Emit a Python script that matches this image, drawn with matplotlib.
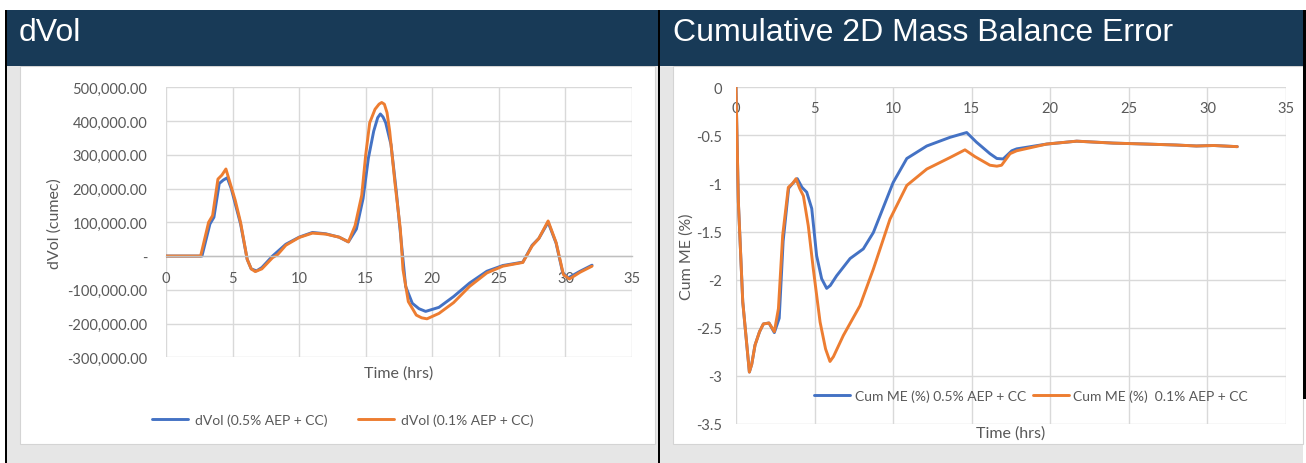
import matplotlib
matplotlib.use("Agg")
import matplotlib.pyplot as plt
from matplotlib.patches import Rectangle
from matplotlib.ticker import FuncFormatter, MultipleLocator

# ---------------- data ----------------
dvol_x_05 = [0, 2.7, 3.3, 3.6, 4.0, 4.3, 4.6, 4.9, 5.2, 5.6, 6.1, 6.4, 6.8, 7.2, 8.0, 9.0, 10.0,
             11.0, 12.0, 13.0, 13.7, 14.3, 14.8, 15.2, 15.6, 15.9, 16.1, 16.3, 16.5, 16.9, 17.3,
             17.7, 18.0, 18.5, 19.0, 19.5, 20.5, 21.6, 22.8, 24.1, 25.3, 26.8, 27.5, 28.0, 28.7,
             29.3, 29.8, 30.2, 31.1, 32.0]
dvol_y_05 = [0, 0, 95000, 115000, 215000, 225000, 232000, 200000, 155000, 95000, -10000, -38000,
             -44000, -34000, 0, 35000, 56000, 70000, 66000, 56000, 42000, 80000, 170000, 290000,
             370000, 410000, 421000, 412000, 395000, 330000, 190000, 30000, -90000, -140000,
             -156000, -164000, -152000, -120000, -80000, -45000, -28000, -18000, 32000, 52000,
             100000, 38000, -50000, -65000, -45000, -27000]

dvol_x_01 = [0, 2.6, 3.2, 3.5, 3.9, 4.2, 4.5, 4.9, 5.2, 5.6, 6.1, 6.4, 6.7, 7.2, 8.0, 8.4, 9.0,
             10.0, 11.0, 12.0, 13.0, 13.7, 14.2, 14.7, 15.0, 15.3, 15.7, 16.0, 16.2, 16.4, 16.6,
             16.8, 17.2, 17.6, 17.8, 18.2, 18.8, 19.2, 19.6, 20.5, 21.6, 22.8, 24.1, 25.3, 26.8,
             27.5, 28.0, 28.7, 29.3, 29.85, 30.3, 31.1, 32.0]
dvol_y_01 = [0, 0, 100000, 120000, 228000, 240000, 258000, 205000, 165000, 100000, -10000, -38000,
             -46000, -38000, -5000, 5000, 32000, 55000, 68000, 65000, 56000, 42000, 90000, 180000,
             300000, 395000, 435000, 450000, 455000, 450000, 425000, 370000, 215000, 80000,
             -40000, -135000, -175000, -183000, -186000, -170000, -138000, -90000, -50000,
             -30000, -19000, 30000, 52000, 104000, 40000, -55000, -68000, -48000, -30000]

me_x_05 = [0, 0.15, 0.43, 0.85, 1.0, 1.21, 1.5, 1.74, 2.1, 2.44, 2.75, 3.0, 3.35, 3.6, 3.9, 4.2,
           4.5, 4.82, 5.13, 5.45, 5.77, 6.0, 6.4, 7.26, 8.1, 8.74, 10.0, 10.87, 12.14, 13.62,
           14.68, 15.3, 16.16, 16.6, 17.0, 17.55, 17.86, 19.77, 21.68, 24.0, 26.1, 28.0, 29.3,
           30.4, 31.9]
me_y_05 = [0, -1.19, -2.23, -2.96, -2.88, -2.68, -2.54, -2.46, -2.45, -2.55, -2.4, -1.6, -1.05,
           -1.0, -0.95, -1.04, -1.09, -1.26, -1.75, -1.99, -2.09, -2.06, -1.96, -1.78, -1.68,
           -1.51, -0.99, -0.74, -0.61, -0.52, -0.47, -0.57, -0.69, -0.74, -0.745, -0.66, -0.64,
           -0.59, -0.56, -0.58, -0.59, -0.60, -0.61, -0.605, -0.617]

me_x_01 = [0, 0.15, 0.43, 0.85, 1.0, 1.21, 1.5, 1.74, 2.1, 2.44, 2.7, 2.97, 3.33, 3.6, 3.82,
           4.05, 4.29, 4.6, 4.92, 5.35, 5.7, 5.98, 6.2, 6.83, 7.89, 8.74, 9.8, 10.87, 12.14,
           13.62, 14.57, 15.2, 16.16, 16.6, 16.9, 17.44, 17.86, 19.77, 21.68, 24.0, 26.1, 28.0,
           29.3, 30.4, 31.9]
me_y_01 = [0, -1.19, -2.23, -2.96, -2.88, -2.68, -2.54, -2.46, -2.45, -2.54, -2.30, -1.54, -1.04,
           -1.0, -0.95, -1.05, -1.13, -1.44, -1.89, -2.44, -2.72, -2.85, -2.8, -2.58, -2.27,
           -1.89, -1.37, -1.02, -0.85, -0.73, -0.65, -0.72, -0.81, -0.82, -0.81, -0.69, -0.66,
           -0.59, -0.56, -0.58, -0.59, -0.60, -0.61, -0.605, -0.617]

titles = ["dVol", "Cumulative 2D Mass Balance Error"]
dvol_labels = ["dVol (0.5% AEP + CC)", "dVol (0.1% AEP + CC)"]
me_labels = ["Cum ME (%) 0.5% AEP + CC", "Cum ME (%)  0.1% AEP + CC"]

# ---------------- style ----------------
W, H = 1306, 464
BLUE = "#4472C4"
ORANGE = "#ED7D31"
NAVY = "#183a57"
GRID = "#d9d9d9"
AXLINE = "#bfbfbf"
TXT = "#595959"
PANEL = "#e6e6e6"
FONT = ["Lato", "DejaVu Sans"]

fig = plt.figure(figsize=(W / 100, H / 100), dpi=100)
fig.patch.set_facecolor("white")


def box(x0, y0, x1, y1):
    return [x0 / W, 1 - y1 / H, (x1 - x0) / W, (y1 - y0) / H]


def rect(x0, y0, x1, y1, fc, ec="none", lw=0):
    fig.patches.append(Rectangle((x0 / W, 1 - y1 / H), (x1 - x0) / W, (y1 - y0) / H,
                                 transform=fig.transFigure, facecolor=fc, edgecolor=ec,
                                 linewidth=lw, zorder=-10))


# panels
rect(7, 67, 658, 464, PANEL)
rect(20, 67, 655, 445, "white", "#d4d4d4", 0.8)
rect(660, 67, 1303, 464, PANEL)
rect(673, 67, 1303, 445, "white", "#d4d4d4", 0.8)
# headers
rect(5, 11, 658, 67, NAVY)
rect(660, 11, 1306, 67, NAVY)
# black borders
rect(5, 11, 7, 464, "black")
rect(658, 11, 660, 464, "black")
rect(1303, 11, 1306, 400, "black")

fig.text(19 / W, 1 - 33 / H, titles[0], color="white", fontsize=23,
         family="Liberation Sans", va="center", ha="left")
fig.text(673 / W, 1 - 33 / H, titles[1], color="white", fontsize=23,
         family="Liberation Sans", va="center", ha="left")


def style_axes(ax):
    ax.set_facecolor("none")
    ax.grid(True, color=GRID, linewidth=1.0)
    ax.set_axisbelow(True)
    for s in ["top", "right", "left"]:
        ax.spines[s].set_visible(False)
    ax.spines["bottom"].set_position(("data", 0))
    ax.spines["bottom"].set_color(AXLINE)
    ax.spines["bottom"].set_linewidth(1.0)
    ax.tick_params(axis="both", length=0, colors=TXT, labelsize=10.5)


# ---------------- left chart ----------------
ax1 = fig.add_axes(box(166, 88.3, 632, 358.3))
ax1.plot(dvol_x_05, dvol_y_05, color=BLUE, lw=2.1, label=dvol_labels[0],
         solid_joinstyle="round", solid_capstyle="round")
ax1.plot(dvol_x_01, dvol_y_01, color=ORANGE, lw=2.1, label=dvol_labels[1],
         solid_joinstyle="round", solid_capstyle="round")
ax1.set_xlim(0, 35)
ax1.set_ylim(-300000, 500000)
ax1.xaxis.set_major_locator(MultipleLocator(5))
ax1.yaxis.set_major_locator(MultipleLocator(100000))
ax1.yaxis.set_major_formatter(FuncFormatter(lambda v, p: "-" if abs(v) < 1e-6 else f"{v:,.2f}"))
ax1.xaxis.set_major_formatter(FuncFormatter(lambda v, p: f"{v:g}"))
style_axes(ax1)
ax1.tick_params(axis="y", pad=13.5)
ax1.tick_params(axis="x", pad=10.5)
for lab in ax1.get_xticklabels() + ax1.get_yticklabels():
    lab.set_family(FONT)
ax1.set_ylabel("dVol (cumec)", color=TXT, fontsize=11.5, family=FONT)
ax1.yaxis.set_label_coords(-0.223, 0.5)
ax1.text(0.5, -0.055, "Time (hrs)", transform=ax1.transAxes, ha="center", va="center",
         color=TXT, fontsize=11.5, family=FONT)
ax1.legend(loc="center", bbox_to_anchor=((343 - 166) / 466, (358.3 - 421) / 270), ncol=2,
           frameon=False, handlelength=2.6, columnspacing=2.2,
           handletextpad=0.5, labelcolor=TXT, prop={"family": FONT, "size": 10})

# ---------------- right chart ----------------
ax2 = fig.add_axes(box(736, 88.3, 1286, 425))
ax2.plot(me_x_05, me_y_05, color=BLUE, lw=2.1, label=me_labels[0],
         solid_joinstyle="round", solid_capstyle="round")
ax2.plot(me_x_01, me_y_01, color=ORANGE, lw=2.1, label=me_labels[1],
         solid_joinstyle="round", solid_capstyle="round")
ax2.set_xlim(0, 35)
ax2.set_ylim(-3.5, 0)
ax2.xaxis.set_major_locator(MultipleLocator(5))
ax2.yaxis.set_major_locator(MultipleLocator(0.5))
ax2.yaxis.set_major_formatter(FuncFormatter(lambda v, p: f"{v:g}" if abs(v) > 1e-9 else "0"))
ax2.xaxis.set_major_formatter(FuncFormatter(lambda v, p: f"{v:g}"))
style_axes(ax2)
ax2.spines["bottom"].set_visible(False)
ax2.tick_params(axis="y", pad=10)
ax2.tick_params(axis="x", pad=10)
for lab in ax2.get_xticklabels() + ax2.get_yticklabels():
    lab.set_family(FONT)
ax2.set_ylabel("Cum ME (%)", color=TXT, fontsize=11.5, family=FONT)
ax2.yaxis.set_label_coords(-0.0773, 0.5)
ax2.text(0.5, -0.025, "Time (hrs)", transform=ax2.transAxes, ha="center", va="center",
         color=TXT, fontsize=11.5, family=FONT)
ax2.legend(loc="center", bbox_to_anchor=((1031 - 736) / 550, (425 - 397) / 336.7), ncol=2,
           frameon=False, handlelength=2.6, columnspacing=0.5, handletextpad=0.3,
           labelcolor=TXT, prop={"family": FONT, "size": 10})

fig.savefig("out.png", dpi=100, facecolor="white")
